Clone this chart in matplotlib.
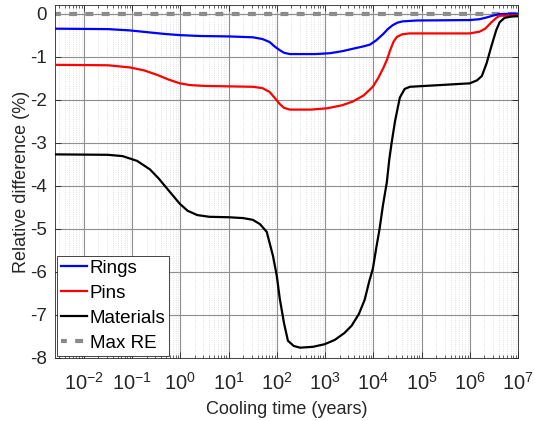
import numpy as np
import matplotlib
matplotlib.use("Agg")
import matplotlib.pyplot as plt
from matplotlib.ticker import FixedLocator, LogLocator, NullFormatter

plt.rcParams['font.family'] = ['Liberation Sans', 'DejaVu Sans']
plt.rcParams['axes.unicode_minus'] = False
plt.rcParams['mathtext.default'] = 'regular'

# log10 of cooling time (years) and relative difference (%)
rings_logt = [-2.6, -1.5, -1.05, -0.7, -0.35, -0.01, 0.4, 1.0, 1.5, 1.7, 1.85, 1.95, 2.06, 2.15,
              2.27, 2.8, 3.1, 3.37, 3.6, 3.8, 3.93, 4.05, 4.2, 4.3, 4.4, 4.5, 4.61, 4.9, 6.0,
              6.2, 6.35, 6.5, 6.62, 7.0]
rings = [-0.35, -0.36, -0.39, -0.43, -0.47, -0.50, -0.52, -0.53, -0.55, -0.59, -0.66, -0.76, -0.85,
         -0.91, -0.94, -0.94, -0.92, -0.87, -0.81, -0.76, -0.72, -0.63, -0.48, -0.36, -0.27, -0.21,
         -0.18, -0.16, -0.15, -0.13, -0.09, -0.04, -0.01, 0.0]

pins_logt = [-2.6, -1.5, -1.05, -0.75, -0.49, -0.25, -0.01, 0.2, 0.5, 1.0, 1.5, 1.7, 1.85, 1.95,
             2.06, 2.15, 2.27, 2.7, 3.04, 3.35, 3.58, 3.8, 3.99, 4.1, 4.2, 4.28, 4.35, 4.42, 4.49,
             4.6, 4.75, 6.0, 6.2, 6.32, 6.45, 6.55, 6.62, 7.0]
pins = [-1.19, -1.20, -1.25, -1.32, -1.42, -1.53, -1.62, -1.66, -1.68, -1.69, -1.70, -1.73, -1.82,
        -1.95, -2.10, -2.19, -2.23, -2.23, -2.20, -2.13, -2.04, -1.90, -1.70, -1.50, -1.28, -1.08,
        -0.85, -0.65, -0.54, -0.48, -0.46, -0.46, -0.42, -0.35, -0.20, -0.10, -0.05, -0.04]

materials_logt = [-2.6, -1.5, -1.2, -0.9, -0.63, -0.45, -0.25, -0.01, 0.15, 0.35, 0.6, 1.0, 1.3,
                  1.5, 1.65, 1.79, 1.92, 2.0, 2.06, 2.15, 2.23, 2.35, 2.48, 2.75, 2.99, 3.2, 3.4,
                  3.55, 3.7, 3.82, 3.92, 3.99, 4.06, 4.13, 4.2, 4.28, 4.33, 4.38, 4.45, 4.55, 4.65,
                  4.76, 6.0, 6.15, 6.25, 6.35, 6.45, 6.55, 6.62, 6.72, 6.85, 7.0]
materials = [-3.27, -3.28, -3.31, -3.42, -3.62, -3.83, -4.10, -4.42, -4.58, -4.68, -4.72, -4.73,
             -4.75, -4.79, -4.89, -5.07, -5.63, -6.10, -6.62, -7.20, -7.60, -7.72, -7.76, -7.74,
             -7.68, -7.58, -7.42, -7.25, -6.98, -6.65, -6.20, -5.93, -5.45, -5.00, -4.45, -3.92,
             -3.40, -3.00, -2.50, -1.95, -1.75, -1.70, -1.62, -1.55, -1.45, -1.15, -0.75, -0.38,
             -0.20, -0.10, -0.07, -0.06]

maxre_logt = [-2.6, 7.0]
maxre = [0.0, 0.0]

xtick_exps = list(range(-2, 8))
yticks = list(range(-8, 1))

fig = plt.figure(figsize=(5.35, 4.21), dpi=100)
ax = fig.add_axes([55/535, 1-358/421, (518-55)/535, (358-5)/421])

ax.set_xscale('log')
ax.set_xlim(10**-2.6, 1e7)
ax.set_ylim(-8, 0.2)

grid_c = '#8f8f8f'
ax.plot(np.power(10.0, maxre_logt), maxre, color='#8a8a8a', lw=3, ls=(0.5, (1.9, 2.0)),
        label='Max RE', zorder=2)
ax.axhline(0, color=grid_c, lw=0.8, zorder=2.2)
ax.plot(np.power(10.0, rings_logt), rings, color='#0000ff', lw=1.6, label='Rings', zorder=3)
ax.plot(np.power(10.0, pins_logt), pins, color='#ff0000', lw=1.6, label='Pins', zorder=3)
ax.plot(np.power(10.0, materials_logt), materials, color='#000000', lw=1.6, label='Materials', zorder=3)

ax.xaxis.set_major_locator(FixedLocator([10.0**e for e in xtick_exps]))
ax.set_xticklabels([r'$10^{%d}$' % e for e in xtick_exps])
ax.xaxis.set_minor_locator(LogLocator(base=10, subs=np.arange(2, 10), numticks=200))
ax.xaxis.set_minor_formatter(NullFormatter())
ax.yaxis.set_major_locator(FixedLocator(yticks))
ax.set_yticklabels([str(v) for v in yticks])

ax.grid(True, which='major', color=grid_c, lw=0.8, ls='-', zorder=1)
ax.grid(True, which='minor', axis='x', color='#d8d8d8', lw=0.6, ls=':', zorder=0)

ax.tick_params(which='both', direction='in', top=True, right=True, labelsize=13.5, colors='#262626')
ax.tick_params(axis='x', labelsize=14.5)
ax.tick_params(which='major', length=4, width=0.6)
ax.tick_params(which='minor', length=2.5, width=0.5)
ax.tick_params(axis='x', pad=10)
ax.tick_params(axis='y', pad=6)
for s in ax.spines.values():
    s.set_color('#262626')
    s.set_linewidth(0.6)

ax.set_xlabel('Cooling time (years)', fontsize=13, color='#262626', labelpad=5)
ax.set_ylabel('Relative difference (%)', fontsize=13, color='#262626', labelpad=0)

handles, labels = ax.get_legend_handles_labels()
order = [1, 2, 3, 0]
leg = ax.legend([handles[i] for i in order], [labels[i] for i in order],
                loc='lower left', fontsize=13.5, handlelength=1.4, handletextpad=0.12,
                borderpad=0.2, labelspacing=0.42, borderaxespad=0.12, fancybox=False,
                framealpha=1, edgecolor='#262626')
leg.get_frame().set_linewidth(0.6)

fig.savefig('out.png', dpi=100)
